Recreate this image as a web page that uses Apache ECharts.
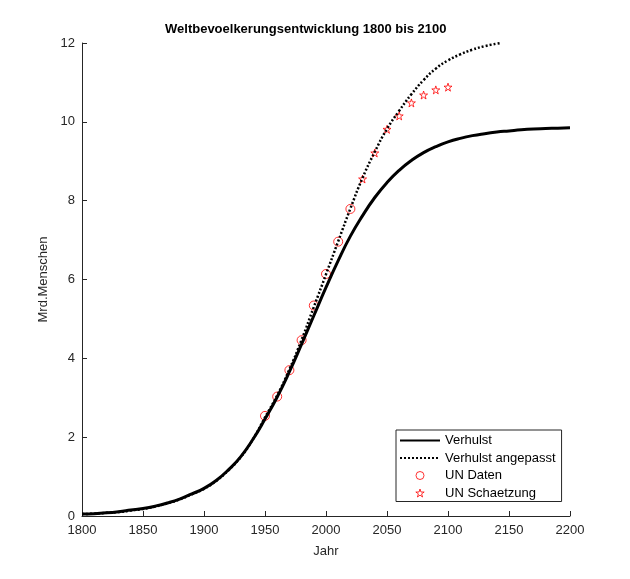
<!DOCTYPE html>
<html>
<head>
<meta charset="utf-8">
<script src="https://cdn.jsdelivr.net/npm/echarts@6/dist/echarts.min.js"></script>
<style>
  html, body { margin: 0; padding: 0; background: #fff; }
  #chart { width: 630px; height: 579px; }
</style>
</head>
<body>
<div id="chart"></div>
<script>
// Verhulst-Modell (durchgezogen)
const verhulstYears = [1800, 1810, 1820, 1830, 1840, 1850, 1860, 1870, 1880, 1890, 1900, 1910, 1920, 1930, 1940, 1950, 1960, 1970, 1980, 1990, 2000, 2010, 2020, 2030, 2040, 2050, 2060, 2070, 2080, 2090, 2100, 2110, 2120, 2130, 2140, 2150, 2160, 2170, 2180, 2190, 2200];
const verhulst = [0.05, 0.06, 0.08, 0.11, 0.15, 0.19, 0.25, 0.33, 0.43, 0.56, 0.7, 0.9, 1.17, 1.5, 1.94, 2.46, 3.02, 3.66, 4.36, 5.08, 5.8, 6.48, 7.1, 7.62, 8.08, 8.46, 8.77, 9.02, 9.22, 9.37, 9.49, 9.58, 9.65, 9.7, 9.74, 9.77, 9.8, 9.82, 9.83, 9.84, 9.85];

// Verhulst angepasst (gepunktet)
const fitYears = [1800, 1810, 1820, 1830, 1840, 1850, 1860, 1870, 1880, 1890, 1900, 1910, 1920, 1930, 1940, 1950, 1960, 1970, 1980, 1990, 2000, 2010, 2020, 2030, 2040, 2050, 2060, 2070, 2080, 2090, 2100, 2110, 2120, 2130, 2143];
const verhulstFit = [0.05, 0.06, 0.08, 0.1, 0.14, 0.18, 0.24, 0.32, 0.42, 0.55, 0.69, 0.89, 1.16, 1.49, 1.94, 2.5, 3.06, 3.72, 4.47, 5.3, 6.13, 6.97, 7.8, 8.58, 9.24, 9.82, 10.28, 10.7, 11.06, 11.35, 11.56, 11.71, 11.83, 11.92, 12.0];

// UN Daten und Schaetzung
const unYears = [1950, 1960, 1970, 1980, 1990, 2000, 2010, 2020];
const unData = [2.54, 3.03, 3.7, 4.46, 5.34, 6.14, 6.96, 7.79];
const estYears = [2030, 2040, 2050, 2060, 2070, 2080, 2090, 2100];
const unEst = [8.55, 9.21, 9.81, 10.15, 10.48, 10.68, 10.81, 10.88];

const pairs = (xs, ys) => xs.map((x, i) => [x, ys[i]]);

const starPath = 'path://M50,2 L61,36 L97,36 L68,57 L79,92 L50,71 L21,92 L32,57 L3,36 L39,36 Z';
const font = '"Liberation Sans", Arial, Helvetica, sans-serif';
const axisColor = '#262626';
const noMarker = { color: 'transparent', borderColor: 'transparent', borderWidth: 0 };
const hollowRed = { color: 'transparent', borderColor: '#ff0000', borderWidth: 1 };

const chart = echarts.init(document.getElementById('chart'));
chart.setOption({
  animation: false,
  backgroundColor: '#fff',
  textStyle: { fontFamily: font },
  title: {
    text: 'Weltbevoelkerungsentwicklung 1800 bis 2100',
    left: 160,
    top: 18,
    textStyle: { fontFamily: font, fontSize: 13, fontWeight: 'bold', color: '#000' }
  },
  grid: { left: 82, right: 60, top: 43, bottom: 63 },
  xAxis: {
    type: 'value',
    min: 1800,
    max: 2200,
    interval: 50,
    name: 'Jahr',
    nameLocation: 'middle',
    nameGap: 29,
    nameTextStyle: { fontFamily: font, fontSize: 13, color: axisColor },
    axisLine: { lineStyle: { color: axisColor, width: 1 } },
    axisTick: { inside: true, length: 5, lineStyle: { color: axisColor } },
    axisLabel: { fontFamily: font, fontSize: 13, color: axisColor, margin: 8, formatter: v => String(v) },
    splitLine: { show: false }
  },
  yAxis: {
    type: 'value',
    min: 0,
    max: 12,
    interval: 2,
    name: 'Mrd.Menschen',
    nameLocation: 'middle',
    nameGap: 30,
    nameTextStyle: { fontFamily: font, fontSize: 13, color: axisColor },
    axisLine: { show: true, lineStyle: { color: axisColor, width: 1 } },
    axisTick: { show: true, inside: true, length: 5, lineStyle: { color: axisColor } },
    axisLabel: { fontFamily: font, fontSize: 13, color: axisColor, margin: 7 },
    splitLine: { show: false }
  },
  legend: {
    orient: 'vertical',
    left: 396,
    top: 430,
    padding: [3, 6, 1, 3],
    itemGap: 2.5,
    itemWidth: 40,
    itemHeight: 8,
    borderColor: '#262626',
    borderWidth: 1,
    backgroundColor: '#fff',
    textStyle: { fontFamily: font, fontSize: 13, color: '#000', lineHeight: 15 },
    data: [
      { name: 'Verhulst', itemStyle: noMarker },
      { name: 'Verhulst angepasst', itemStyle: noMarker },
      { name: 'UN Daten', itemStyle: hollowRed },
      { name: 'UN Schaetzung', itemStyle: hollowRed }
    ]
  },
  series: [
    {
      name: 'Verhulst',
      type: 'line',
      smooth: true,
      symbol: 'none',
      lineStyle: { color: '#000', width: 3 },
      itemStyle: { color: '#000' },
      data: pairs(verhulstYears, verhulst)
    },
    {
      name: 'Verhulst angepasst',
      type: 'line',
      smooth: true,
      symbol: 'none',
      lineStyle: { color: '#000', width: 2.5, type: [2, 2] },
      itemStyle: { color: '#000' },
      data: pairs(fitYears, verhulstFit)
    },
    {
      name: 'UN Daten',
      type: 'scatter',
      symbol: 'circle',
      symbolSize: 9,
      itemStyle: hollowRed,
      data: pairs(unYears, unData)
    },
    {
      name: 'UN Schaetzung',
      type: 'scatter',
      symbol: starPath,
      symbolSize: 8,
      itemStyle: hollowRed,
      data: pairs(estYears, unEst)
    }
  ]
});
</script>
</body>
</html>
